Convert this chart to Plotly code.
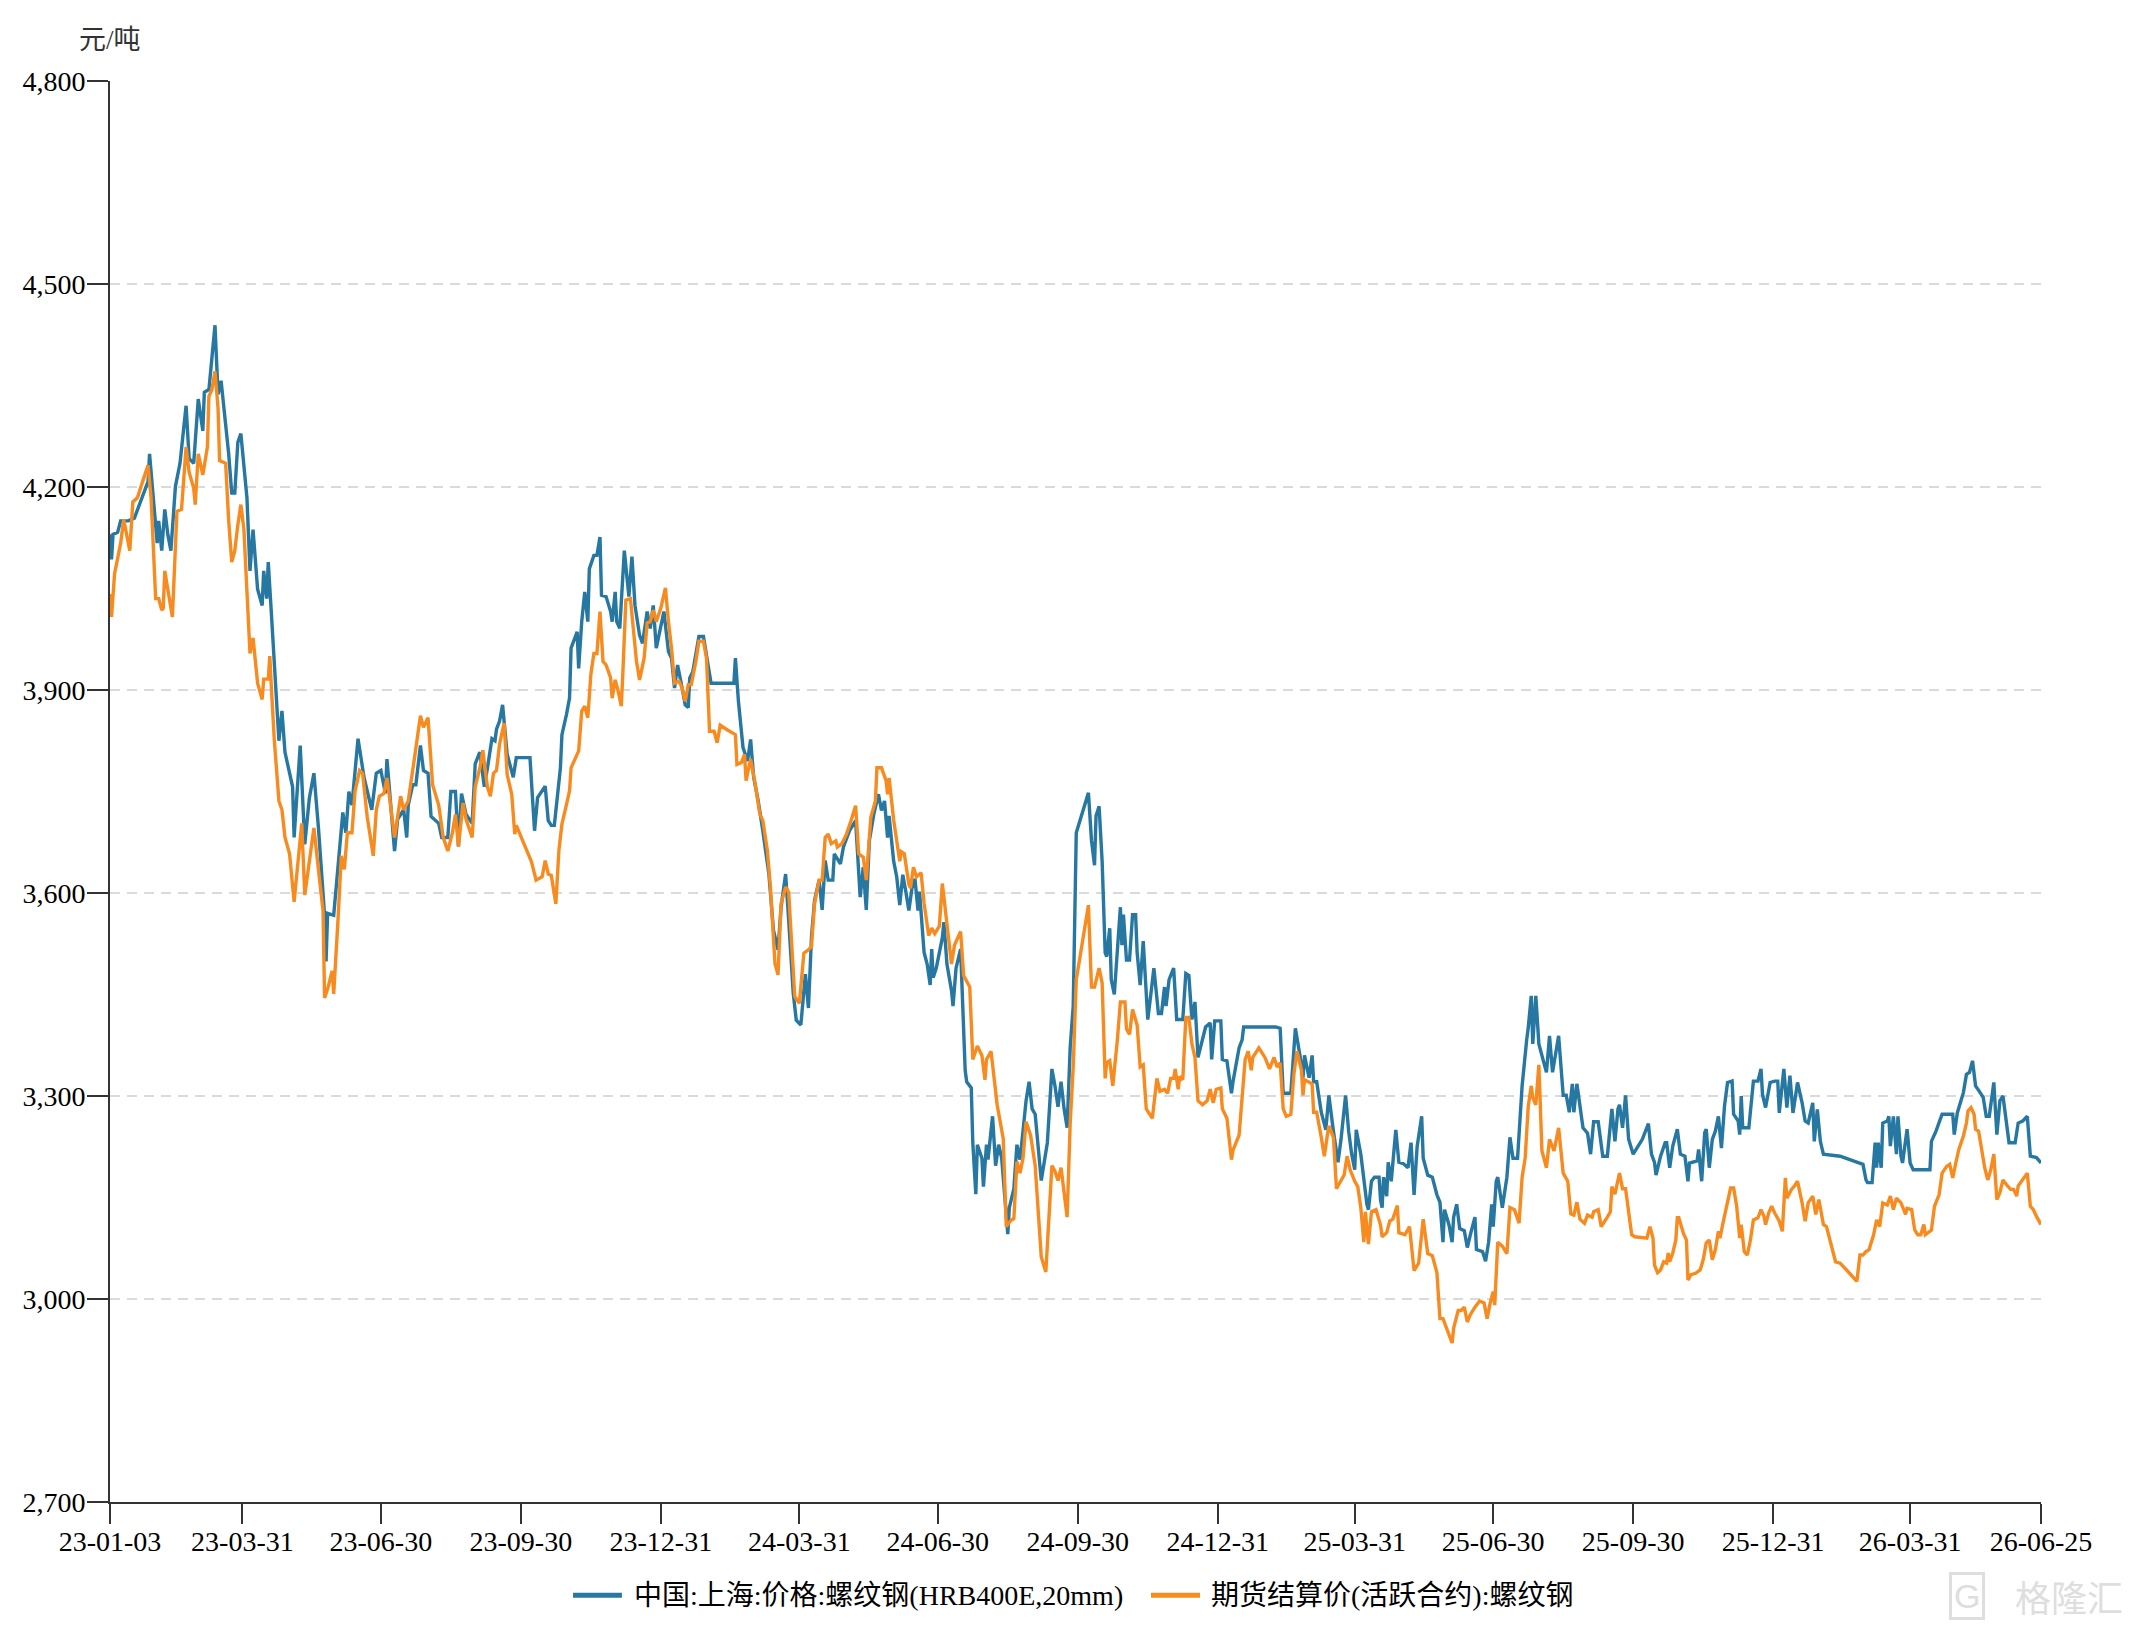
import pandas as pd
import plotly.graph_objects as go

# ---------------- data ----------------
START_DATE = "2023-01-03"

# 中国:上海:价格:螺纹钢(HRB400E,20mm) — day offset from START_DATE, price (元/吨)
spot_days = [0,1,2,5,7,12,16,25,26,31,32,34,36,38,40,43,46,50,52,55,58,61,62,65,69,71,73,75,78,80,82,84,86,90,92,94,97,100,101,103,104,106,111,113,115,120,121,125,128,131,134,137,141,142,143,147,150,153,155,157,159,163,167,172,175,178,181,182,185,187,189,193,195,196,199,201,204,206,209,211,216,218,222,224,227,229,231,234,238,240,243,246,248,251,253,254,
             256,258,261,265,267,276,279,281,286,288,290,292,296,297,300,302,303,307,308,310,312,314,315,318,320,322,323,326,329,330,332,333,335,338,341,343,345,348,350,353,355,357,359,364,367,369,371,373,376,378,380,381,383,387,390,392,395,410,411,413,416,419,421,423,426,429,433,436,439,441,444,446,449,451,454,457,459,461,463,466,468,470,472,475,476,480,482,486,490,493,495,497,499,502,505,507,509,511,
             512,515,517,519,521,523,525,527,529,531,532,535,537,539,540,541,543,547,548,550,553,554,556,559,560,562,563,566,567,569,570,573,574,576,577,580,582,584,586,588,590,591,594,596,598,600,602,604,606,608,610,612,616,619,621,623,625,627,629,631,633,635,643,645,647,648,650,652,654,655,657,658,660,662,664,665,666,668,670,672,674,675,677,679,682,684,686,689,691,693,694,696,699,701,705,707,709,711,713,715,718,720,723,724,726,730,731,734,737,738,742,744,745,766,
             769,771,776,779,782,784,785,788,790,791,793,796,799,801,804,807,809,812,814,816,818,819,822,826,827,829,831,834,835,836,837,839,840,842,845,847,850,853,855,857,859,862,863,866,869,872,874,876,877,880,882,883,885,887,890,892,894,897,898,902,904,906,908,909,911,912,915,918,920,922,925,927,928,931,932,934,935,937,939,941,944,946,948,952,955,957,959,961,962,964,968,971,973,975,978,981,984,987,989,991,992,994,996,998,1001,1007,1011,1013,1015,1016,
             1019,1022,1023,1025,1027,1030,1032,1035,1037,1038,1043,1044,1046,1048,1049,1051,1053,1055,1057,1059,1061,1063,1066,1067,1070,1071,1072,1073,1077,1080,1083,1085,1086,1088,1091,1094,1096,1097,1100,1102,1104,1106,1109,1112,1114,1116,1119,1120,1122,1124,1126,1137,1143,1150,1152,1154,1155,1158,1160,1161,1162,1164,1165,1168,1169,1170,1172,1174,1175,1177,1178,1181,1183,1185,1196,1197,1200,1204,1211,1212,1214,1216,1218,1220,1222,1224,1226,1229,1231,1233,1235,1238,1240,1242,1244,1248,1252,1254,1257,1260,1262,1266,1269]
spot_price = [4130,4093,4130,4133,4150,4150,4154,4208,4249,4117,4150,4106,4167,4130,4106,4201,4235,4320,4242,4235,4330,4283,4340,4344,4439,4337,4357,4313,4249,4191,4191,4266,4279,4184,4076,4137,4049,4025,4076,4035,4089,4015,3825,3869,3808,3757,3682,3818,3672,3740,3777,3696,3567,3499,3570,3567,3648,3719,3689,3750,3730,3828,3770,3723,3777,3781,3747,3798,3716,3662,3709,3723,3682,3730,3760,3760,3818,3781,3777,3713,3703,3682,3682,3750,3750,3669,3747,3716,3703,3791,3808,3757,3784,3828,3825,3842,
              3854,3878,3805,3771,3800,3800,3692,3741,3758,3707,3700,3700,3785,3834,3864,3888,3962,3986,3932,4001,4045,4001,4079,4099,4099,4126,4040,4038,4016,4001,4045,4001,3991,4106,4038,4097,4025,3981,3969,4016,3991,4025,3962,4016,3957,3947,3903,3937,3903,3878,3874,3918,3927,3979,3979,3952,3910,3910,3947,3883,3815,3795,3827,3771,3736,3692,3628,3545,3516,3579,3628,3560,3452,3412,3405,3480,3430,3535,3589,3619,3575,3648,3619,3619,3658,3643,3668,3692,3707,3594,3638,3575,3677,3717,3746,3722,3736,3682,
              3714,3647,3624,3582,3627,3602,3574,3607,3621,3574,3602,3512,3495,3464,3517,3475,3489,3534,3557,3495,3456,3433,3489,3517,3444,3338,3321,3312,3231,3155,3228,3208,3166,3228,3206,3270,3197,3228,3208,3152,3096,3135,3163,3228,3206,3248,3293,3321,3281,3273,3225,3175,3231,3340,3315,3284,3321,3281,3253,3371,3433,3689,3748,3678,3641,3714,3728,3647,3512,3506,3548,3472,3450,3517,3579,3523,3568,3501,3501,3568,3568,3512,3464,3529,3413,3450,3489,3422,3422,3461,3433,3472,3489,3413,3413,3481,3478,3413,3439,3357,3383,3402,3408,3354,3411,3411,3354,3352,3304,3321,3371,3383,3402,3402,
              3400,3304,3304,3400,3360,3327,3360,3327,3360,3321,3321,3276,3250,3301,3248,3202,3236,3301,3248,3214,3191,3250,3214,3140,3132,3174,3180,3180,3146,3135,3180,3152,3202,3174,3250,3202,3200,3194,3231,3154,3225,3270,3208,3183,3180,3154,3143,3084,3132,3109,3084,3121,3140,3104,3101,3076,3095,3121,3073,3070,3056,3084,3140,3107,3174,3180,3135,3180,3239,3208,3208,3276,3315,3383,3400,3448,3377,3448,3377,3360,3335,3389,3335,3389,3301,3301,3276,3318,3276,3318,3253,3245,3214,3262,3262,3211,3211,3281,3233,3281,3287,3253,3301,3236,3214,3236,3259,3214,3202,3183,
              3211,3231,3231,3194,3226,3251,3214,3211,3174,3201,3204,3221,3174,3246,3251,3194,3236,3248,3270,3223,3285,3320,3322,3273,3263,3243,3300,3253,3253,3322,3322,3340,3302,3283,3320,3322,3322,3275,3340,3283,3330,3275,3320,3290,3263,3260,3290,3233,3280,3233,3214,3211,3206,3201,3199,3176,3172,3172,3231,3194,3231,3194,3260,3263,3270,3226,3270,3214,3270,3211,3201,3251,3201,3191,3191,3233,3248,3273,3273,3243,3275,3290,3305,3332,3335,3352,3315,3305,3298,3270,3270,3320,3243,3293,3300,3231,3231,3260,3263,3270,3211,3209,3201]

# 期货结算价(活跃合约):螺纹钢 — day offset from START_DATE, price (元/吨)
futures_days = [0,1,3,7,9,11,13,15,18,22,25,27,30,32,34,35,36,38,41,44,47,50,52,55,56,58,61,64,65,67,69,71,72,76,78,80,82,84,86,88,91,92,94,97,100,101,104,105,106,108,111,113,115,118,121,123,126,128,131,134,138,140,141,143,146,147,150,152,154,156,159,161,164,166,169,171,173,175,177,180,182,184,187,191,193,196,198,200,204,206,209,212,216,219,222,225,227,229,232,234,238,240,243,245,248,250,252,254,
                256,259,261,264,266,267,272,277,280,284,286,288,290,293,295,297,300,302,303,306,308,310,312,314,316,318,320,322,324,326,329,330,332,334,336,337,339,342,344,346,348,351,353,355,357,359,362,365,367,369,371,374,376,378,380,382,385,387,390,392,394,397,399,401,405,411,412,415,417,418,421,424,427,429,432,434,437,439,441,444,446,448,450,453,456,459,461,463,466,468,470,472,474,477,478,481,484,487,490,492,495,497,500,503,504,507,510,511,
                512,515,517,519,520,522,525,526,528,530,533,535,538,540,542,545,547,550,553,555,559,561,565,567,570,573,575,576,579,583,587,589,592,594,596,598,600,602,605,608,610,612,615,617,619,621,623,625,629,631,633,635,643,645,647,650,652,654,655,657,659,662,664,667,668,670,672,675,677,679,681,685,688,690,693,695,697,699,700,702,703,705,707,709,711,713,715,718,721,723,725,727,730,731,734,737,738,742,744,746,748,750,751,755,759,762,765,767,
                769,771,773,776,778,780,783,784,785,790,791,793,796,798,800,801,804,806,808,811,813,815,818,820,822,824,825,827,829,832,835,836,839,841,843,846,847,851,854,857,860,863,866,869,872,874,876,879,882,883,886,888,890,892,894,897,900,903,905,907,909,910,912,915,918,920,923,926,928,930,932,934,935,937,939,940,941,944,946,949,952,955,958,960,962,964,966,969,971,974,975,978,980,984,986,987,989,992,994,996,1000,1002,1007,1010,1012,1014,1015,1017,
                1019,1021,1023,1024,1025,1027,1029,1030,1031,1034,1036,1037,1039,1042,1045,1047,1049,1051,1053,1055,1057,1058,1060,1062,1065,1067,1069,1071,1072,1074,1076,1078,1080,1083,1085,1087,1088,1090,1092,1094,1097,1099,1101,1102,1105,1107,1109,1112,1114,1116,1119,1121,1123,1126,1128,1134,1137,1142,1148,1150,1152,1154,1156,1159,1161,1163,1165,1168,1170,1172,1174,1177,1180,1181,1184,1186,1188,1190,1192,1193,1197,1199,1202,1204,1207,1209,1211,1213,1215,1218,1220,1221,1223,1225,1226,1228,1230,1232,1234,1236,1238,1240,1242,1244,1247,1249,1251,1253,1254,1257,1260,1262,1264,1266,1269]
futures_price = [4042,4008,4072,4117,4152,4130,4106,4178,4184,4212,4232,4184,4035,4035,4018,4021,4076,4049,4008,4164,4167,4259,4222,4198,4174,4249,4218,4259,4334,4344,4371,4317,4239,4235,4150,4089,4106,4144,4174,4137,4001,3954,3977,3910,3886,3916,3916,3950,3906,3825,3736,3723,3682,3658,3587,3635,3703,3597,3648,3696,3614,3574,3445,3458,3485,3451,3567,3655,3635,3689,3689,3750,3781,3777,3713,3686,3655,3723,3743,3747,3770,3736,3682,3743,3723,3736,3770,3798,3862,3845,3859,3760,3730,3682,3662,3689,3716,3669,3733,3709,3682,3757,3784,3811,3757,3743,3777,3781,
                 3820,3851,3775,3746,3687,3700,3673,3646,3619,3624,3648,3628,3626,3584,3663,3702,3731,3751,3785,3800,3810,3869,3876,3859,3923,3954,3954,4016,3942,3937,3918,3888,3915,3898,3876,3923,4033,4035,3991,3942,3915,3947,3999,4001,4018,4001,4021,4051,4001,3962,3910,3913,3903,3883,3908,3908,3942,3972,3972,3947,3839,3839,3822,3848,3842,3834,3790,3793,3805,3766,3798,3761,3717,3707,3663,3609,3496,3479,3584,3609,3601,3521,3447,3437,3511,3516,3521,3584,3619,3619,3682,3687,3673,3677,3668,3673,3687,3707,3729,3658,3653,3619,3712,3736,3785,3785,3766,3746,
                 3770,3708,3675,3647,3661,3658,3613,3607,3638,3624,3630,3585,3537,3548,3540,3551,3614,3557,3495,3523,3543,3478,3461,3354,3374,3360,3324,3354,3366,3287,3237,3107,3116,3119,3203,3186,3208,3262,3242,3197,3130,3062,3040,3124,3197,3189,3175,3194,3121,3259,3343,3472,3582,3461,3461,3489,3467,3326,3349,3352,3315,3383,3439,3439,3399,3391,3428,3405,3343,3346,3281,3267,3326,3307,3310,3304,3326,3326,3340,3310,3329,3324,3416,3416,3377,3357,3293,3287,3293,3310,3290,3310,3312,3281,3267,3206,3220,3242,3298,3354,3366,3338,3357,3371,3357,3340,3357,3343,
                 3349,3281,3270,3273,3332,3366,3338,3301,3324,3318,3276,3276,3239,3211,3242,3256,3239,3163,3171,3183,3211,3191,3174,3166,3135,3084,3129,3081,3129,3132,3109,3092,3098,3115,3118,3138,3098,3095,3107,3042,3053,3118,3067,3064,3039,2971,2971,2954,2935,2957,2983,2983,2988,2966,2977,2988,2997,2994,2971,2994,3011,2991,3084,3078,3067,3135,3132,3112,3180,3208,3284,3315,3298,3287,3346,3284,3219,3194,3236,3219,3253,3186,3174,3126,3124,3143,3118,3112,3124,3121,3129,3132,3107,3121,3129,3166,3155,3186,3163,3163,3095,3092,3090,3090,3107,3090,3050,3039,
                 3043,3055,3053,3068,3055,3068,3087,3120,3120,3097,3087,3028,3036,3038,3043,3058,3083,3087,3058,3073,3100,3090,3112,3132,3164,3164,3137,3090,3110,3070,3065,3087,3117,3120,3132,3122,3110,3127,3137,3127,3115,3100,3179,3149,3162,3167,3174,3142,3115,3142,3152,3125,3147,3110,3107,3055,3053,3041,3026,3065,3065,3070,3073,3095,3117,3107,3142,3139,3152,3132,3149,3142,3125,3134,3132,3102,3095,3095,3110,3095,3102,3137,3154,3186,3196,3199,3179,3201,3221,3241,3260,3278,3283,3273,3251,3248,3221,3194,3176,3191,3214,3147,3157,3176,3167,3162,3162,3152,3167,3176,3186,3137,3132,3122,3110]

series_names = ["中国:上海:价格:螺纹钢(HRB400E,20mm)", "期货结算价(活跃合约):螺纹钢"]
x_tick_dates = ["2023-01-03", "2023-03-31", "2023-06-30", "2023-09-30", "2023-12-31",
                "2024-03-31", "2024-06-30", "2024-09-30", "2024-12-31", "2025-03-31",
                "2025-06-30", "2025-09-30", "2025-12-31", "2026-03-31", "2026-06-25"]
x_tick_labels = ["23-01-03", "23-03-31", "23-06-30", "23-09-30", "23-12-31",
                 "24-03-31", "24-06-30", "24-09-30", "24-12-31", "25-03-31",
                 "25-06-30", "25-09-30", "25-12-31", "26-03-31", "26-06-25"]
y_ticks = [2700, 3000, 3300, 3600, 3900, 4200, 4500, 4800]
unit_label = "元/吨"
watermark_logo = "G"
watermark = "格隆汇"

# ---------------- figure ----------------
BLUE = "#2677a1"
ORANGE = "#f88b1f"
AXIS = "#333333"
FONT = "Liberation Serif, Noto Sans CJK SC, serif"
colors = [BLUE, ORANGE]

start = pd.Timestamp(START_DATE)


def to_dates(days):
    return [start + pd.Timedelta(days=int(d)) for d in days]


fig = go.Figure()
fig.add_trace(go.Scatter(x=to_dates(spot_days), y=spot_price, mode="lines",
                         name=series_names[0], line=dict(color=BLUE, width=3.4),
                         showlegend=False))
fig.add_trace(go.Scatter(x=to_dates(futures_days), y=futures_price, mode="lines",
                         name=series_names[1], line=dict(color=ORANGE, width=3.4),
                         showlegend=False))

fig.update_layout(
    width=2140, height=1628,
    margin=dict(l=110, r=99, t=81, b=126),
    plot_bgcolor="white", paper_bgcolor="white",
    font=dict(family=FONT, size=28, color="#000"),
    showlegend=False,
    hovermode=False,
)

fig.update_xaxes(
    type="date", range=[x_tick_dates[0], x_tick_dates[-1]],
    tickmode="array", tickvals=x_tick_dates, ticktext=x_tick_labels,
    ticks="outside", ticklen=20, tickwidth=2, tickcolor=AXIS,
    ticklabelstandoff=-7,
    showline=True, linecolor=AXIS, linewidth=2,
    showgrid=False, zeroline=False,
    tickfont=dict(family=FONT, size=28, color="#000"),
)
fig.update_yaxes(
    range=[y_ticks[0], y_ticks[-1]],
    tickmode="array", tickvals=y_ticks, tickformat=",d",
    ticks="outside", ticklen=21, tickwidth=2, tickcolor=AXIS,
    ticklabelstandoff=-4,
    showline=True, linecolor=AXIS, linewidth=2,
    showgrid=True, gridcolor="#dadada", gridwidth=1.6, griddash="10px,7px",
    zeroline=False,
    tickfont=dict(family=FONT, size=28, color="#000"),
)

# unit label above the y axis
fig.add_annotation(text=unit_label, xref="paper", yref="paper", x=0, y=1.0286,
                   xanchor="center", yanchor="middle", showarrow=False,
                   font=dict(family=FONT, size=27, color="#333"))

# legend drawn as key lines + labels below the plot
legend_y = -0.0656
legend_keys = [(0.2398, 0.2651, 0.2703), (0.5391, 0.5645, 0.5691)]
for (kx0, kx1, tx), name, col in zip(legend_keys, series_names, colors):
    fig.add_shape(type="line", xref="paper", yref="paper", x0=kx0, x1=kx1,
                  y0=legend_y, y1=legend_y, line=dict(color=col, width=5))
    fig.add_annotation(text=name, xref="paper", yref="paper", x=tx, y=legend_y,
                       xanchor="left", yanchor="middle", showarrow=False,
                       font=dict(family=FONT, size=28, color="#000"))

# watermark
fig.add_annotation(text=watermark_logo, xref="paper", yref="paper", x=0.9615, y=-0.0665,
                   xanchor="center", yanchor="middle", showarrow=False,
                   font=dict(family="Liberation Sans", size=34, color="#dedede"),
                   bordercolor="#dedede", borderwidth=3, borderpad=2)
fig.add_annotation(text=watermark, xref="paper", yref="paper", x=1.0435, y=-0.0665,
                   xanchor="right", yanchor="middle", showarrow=False,
                   font=dict(family="Noto Sans CJK SC", size=36, color="#dedede"))

fig.write_html("out.html")
